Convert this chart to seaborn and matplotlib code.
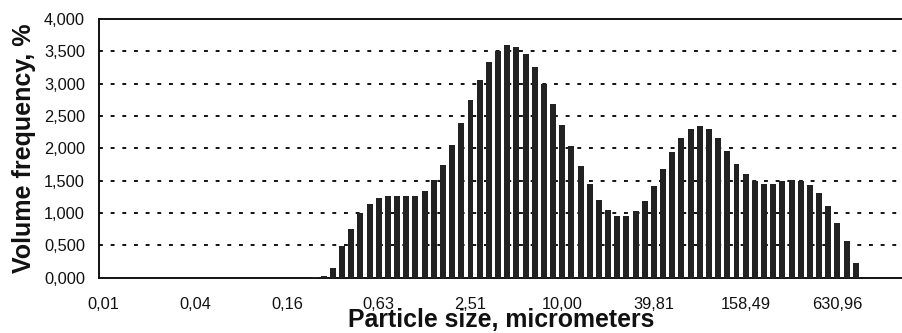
import matplotlib
matplotlib.use("Agg")
import matplotlib.pyplot as plt
import seaborn as sns
from matplotlib.ticker import FuncFormatter, MultipleLocator

# size classes (bin index), tick labels every 10 classes
bin_index = list(range(83))
tick_bins = [0, 10, 20, 30, 40, 50, 60, 70, 80]
tick_labels = ["0,01", "0,04", "0,16", "0,63", "2,51", "10,00", "39,81", "158,49", "630,96"]

# volume frequency, % (bins 0..22 are empty)
volume_freq = [0.0] * 23 + [
    0.010, 0.022, 0.144, 0.488, 0.760, 1.002, 1.146, 1.238, 1.264, 1.264,
    1.259, 1.264, 1.341, 1.506, 1.742, 2.050, 2.395, 2.744, 3.058, 3.330,
    3.510, 3.597, 3.561, 3.459, 3.253, 2.996, 2.688, 2.364, 2.040, 1.721,
    1.444, 1.208, 1.043, 0.961, 0.951, 1.028, 1.182, 1.413, 1.675, 1.943,
    2.155, 2.306, 2.340, 2.294, 2.155, 1.959, 1.763, 1.598, 1.500, 1.454,
    1.454, 1.500, 1.505, 1.495, 1.433, 1.304, 1.103, 0.840, 0.567, 0.222,
]

sns.set_style("white")
plt.rcParams["font.family"] = ["Liberation Sans", "DejaVu Sans"]

fig = plt.figure(figsize=(9.03, 3.33), dpi=100)
ax = fig.add_axes([99 / 903, 1 - 277.7 / 333, 804 / 903, (277.7 - 19) / 333])

sns.barplot(x=bin_index, y=volume_freq, color="#222222", saturation=1,
            width=0.65, linewidth=0, ax=ax, zorder=3)

ax.set_xlim(-0.5, 87.15)
ax.set_ylim(0, 4)
ax.yaxis.set_major_locator(MultipleLocator(0.5))
ax.yaxis.set_major_formatter(FuncFormatter(lambda v, p: f"{v:.3f}".replace(".", ",")))
ax.set_xticks(tick_bins)
ax.set_xticklabels(tick_labels)

for y in [0.5, 1.0, 1.5, 2.0, 2.5, 3.0, 3.5]:
    ax.axhline(y, color="#111111", lw=1.4, linestyle=(0, (2, 4)), zorder=1)

for side in ["left", "bottom", "top"]:
    ax.spines[side].set_color("#111111")
    ax.spines[side].set_linewidth(1.4)
ax.spines["right"].set_visible(False)

ax.tick_params(axis="y", length=0, pad=10, labelsize=11.8, colors="#111111")
ax.tick_params(axis="x", length=0, pad=14, labelsize=11.8, colors="#111111")

ax.set_xlabel("Particle size, micrometers", fontsize=17.9, fontweight="bold",
              color="#111111", va="baseline")
ax.xaxis.set_label_coords(0.5006, -0.1925)
ax.set_ylabel("Volume frequency, %", fontsize=18, fontweight="bold",
              color="#111111", labelpad=6)

fig.savefig("out.png", dpi=100)
